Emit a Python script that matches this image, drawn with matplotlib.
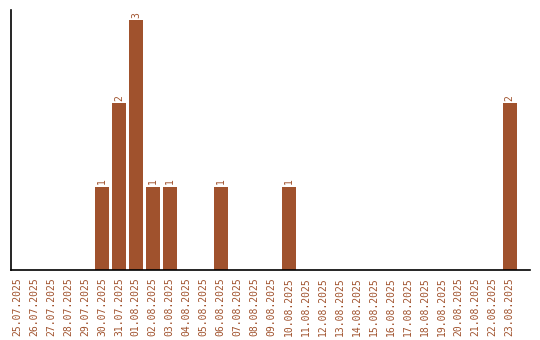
import matplotlib.pyplot as plt
from datetime import date, timedelta

start = date(2025, 7, 25)
days = [(start + timedelta(days=i)).strftime("%d.%m.%Y") for i in range(30)]
counts = {"30.07.2025": 1, "31.07.2025": 2, "01.08.2025": 3, "02.08.2025": 1,
          "03.08.2025": 1, "06.08.2025": 1, "10.08.2025": 1, "23.08.2025": 2}
values = [counts.get(d, 0) for d in days]

color = "#A0522D"

fig = plt.figure(figsize=(5.4, 3.4), dpi=100)
ax = fig.add_axes([10.5 / 540, 70 / 340, 519.5 / 540, 260 / 340])

x = list(range(len(days)))
ax.bar(x, values, width=0.82, color=color)
for xi, v in zip(x, values):
    if v > 0:
        ax.text(xi, v + 0.03, str(v), rotation=90, ha="center", va="bottom",
                color=color, fontsize=7, family="DejaVu Sans Mono")

ax.set_xlim(-0.38, 29 + 1.2)
ax.set_ylim(0, 3.12)
ax.set_xticks(x)
ax.set_xticklabels(days, rotation=90, color=color, fontsize=7,
                   family="DejaVu Sans Mono")
ax.tick_params(axis="x", length=0, pad=5)
ax.set_yticks([])
ax.spines["top"].set_visible(False)
ax.spines["right"].set_visible(False)
ax.spines["left"].set_linewidth(1.2)
ax.spines["bottom"].set_linewidth(1.2)

fig.savefig("out.png", dpi=100)
